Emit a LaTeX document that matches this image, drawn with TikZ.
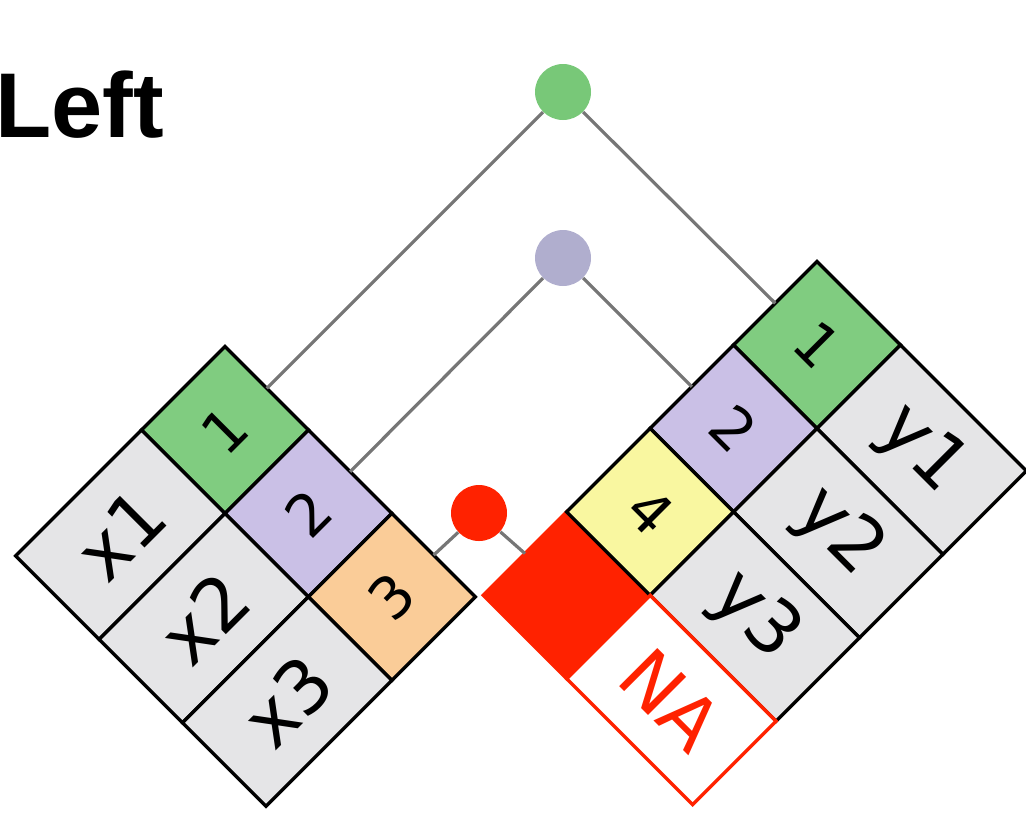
\documentclass[tikz,border=0pt]{standalone}
\usepackage{fontspec}
\setmainfont{DejaVu Sans}
\newfontfamily\titlefont{Liberation Sans}
\usetikzlibrary{calc}
\definecolor{keyGreen}{RGB}{128,204,128}
\definecolor{dotGreen}{RGB}{120,200,120}
\definecolor{keyPurple}{RGB}{202,192,230}
\definecolor{dotPurple}{RGB}{176,174,206}
\definecolor{keyOrange}{RGB}{250,204,152}
\definecolor{keyYellow}{RGB}{249,247,160}
\definecolor{valGray}{RGB}{229,229,231}
\definecolor{missRed}{RGB}{255,34,0}
\definecolor{linkGray}{RGB}{118,118,118}
\tikzset{
  cell/.style={rectangle, draw=black, line width=1.7pt, outer sep=0pt, inner sep=0pt,
               minimum height=59pt},
  keycell/.style={cell, minimum width=59pt, font=\fontsize{29}{29}\selectfont},
  valcell/.style={cell, minimum width=89pt, fill=valGray, font=\fontsize{37}{37}\selectfont},
  leftcell/.style={rotate=45},
  rightcell/.style={rotate=-45},
  dot/.style={circle, minimum size=28pt, inner sep=0pt},
  link/.style={draw=linkGray, line width=1.6pt}
}

\begin{document}
\begin{tikzpicture}[x=0.5pt, y=-0.5pt]
\useasboundingbox (0,0) rectangle (1026,820);
\node[anchor=base west, inner sep=0pt, font=\titlefont\bfseries\fontsize{46}{46}\selectfont] (title) at (-5,137) {Left};

% left table
\node[keycell, leftcell, fill=keyGreen] (lk1) at (225,430) {1};
\node[keycell, leftcell, fill=keyPurple, anchor=north] (lk2) at (lk1.south) {2};
\node[keycell, leftcell, fill=keyOrange, anchor=north] (lk3) at (lk2.south) {3};
\node[valcell, leftcell, anchor=east] (lv1) at (lk1.west) {x1};
\node[valcell, leftcell, anchor=east] (lv2) at (lk2.west) {x2};
\node[valcell, leftcell, anchor=east] (lv3) at (lk3.west) {x3};

% right table
\node[keycell, rightcell, fill=keyGreen] (rk1) at (817,345) {1};
\node[keycell, rightcell, fill=keyPurple, anchor=north] (rk2) at (rk1.south) {2};
\node[keycell, rightcell, fill=missRed, draw=missRed, anchor=north] (rkr) at ($(rk2.south)+(-83.4,83.4)$) {};
\node[keycell, rightcell, fill=keyYellow, anchor=north] (rk4) at (rk2.south) {4};
\node[valcell, rightcell, anchor=west] (rv1) at (rk1.east) {y1};
\node[valcell, rightcell, anchor=west] (rv2) at (rk2.east) {y2};
\node[valcell, rightcell, anchor=west] (rv3) at (rk4.east) {y3};
\node[valcell, rightcell, fill=white, draw=missRed, text=missRed, anchor=west] (rvna) at (rkr.east) {NA};

% matches
\node[dot, fill=dotGreen] (dg) at (563,92) {};
\node[dot, fill=dotPurple] (dp) at (563,258) {};
\node[dot, fill=missRed] (dr) at (479,513) {};
\draw[link] (dg) -- (lk1.east);
\draw[link] (dg) -- (rk1.west);
\draw[link] (dp) -- (lk2.east);
\draw[link] (dp) -- (rk2.west);
\draw[link] (dr) -- (lk3.east);
\draw[link] (dr) -- (rkr.west);
\end{tikzpicture}
\end{document}
